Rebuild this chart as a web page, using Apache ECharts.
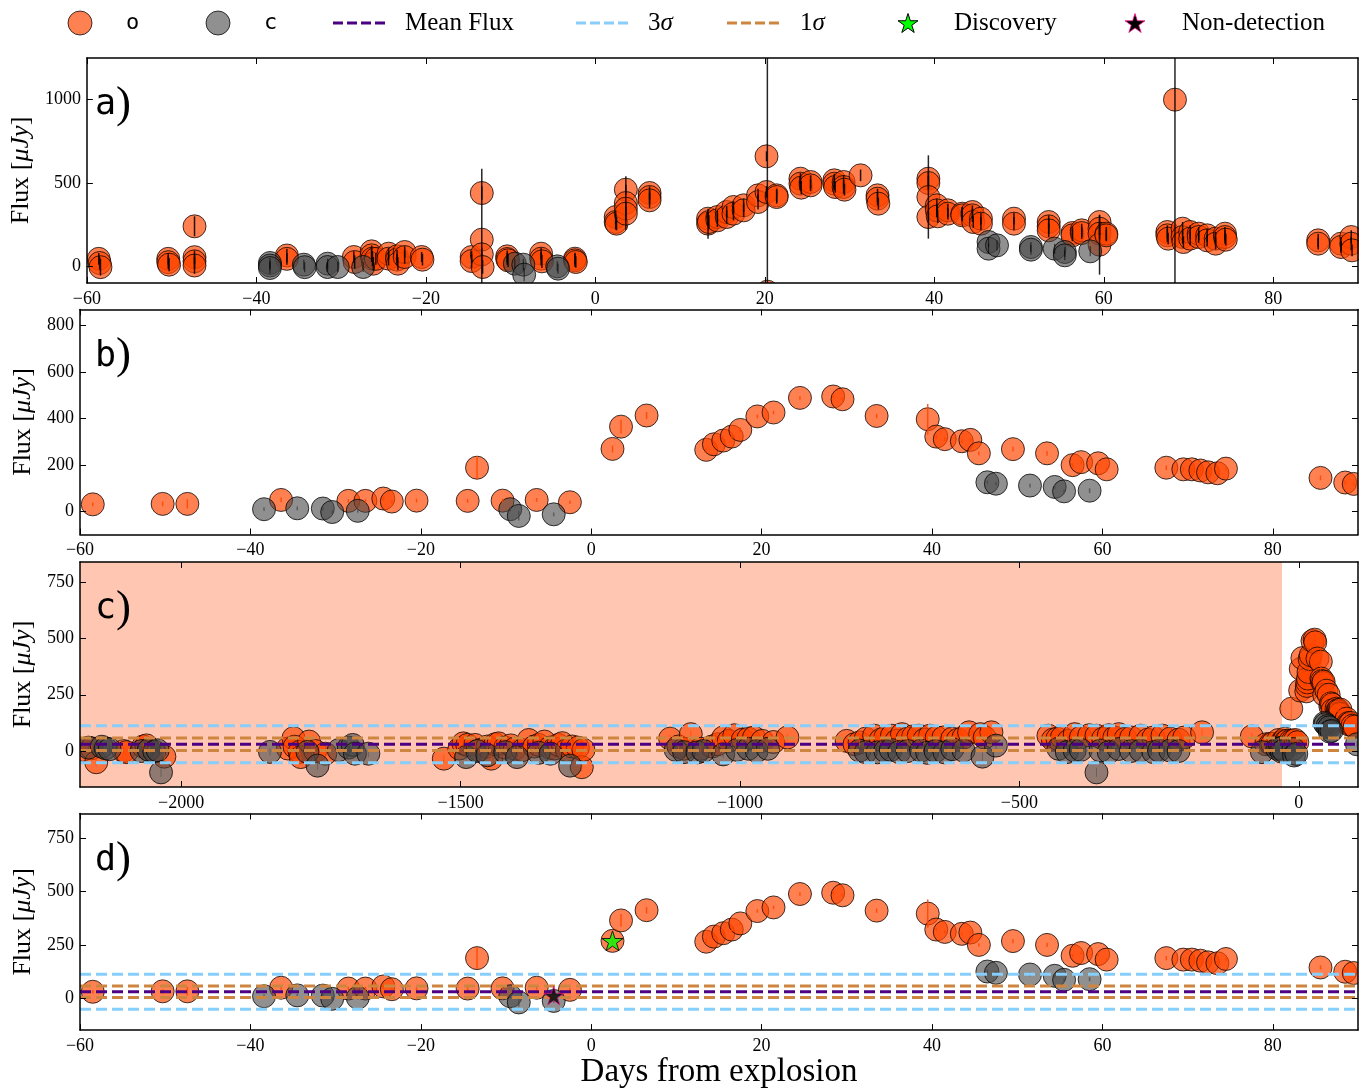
<!DOCTYPE html>
<html>
<head>
<meta charset="utf-8">
<title>Light curve</title>
<script src="https://cdn.jsdelivr.net/npm/echarts@6/dist/echarts.min.js"></script>
<style>
  html, body { margin: 0; padding: 0; background: #fff; }
  #chart { width: 1368px; height: 1090px; }
</style>
</head>
<body>
<div id="chart"></div>
<script>
// ---------------------------------------------------------------------------
// Data: each point is [days from explosion, flux (uJy), 1-sigma error]
// ---------------------------------------------------------------------------

// individual epochs, o band
const epochsO = [
  [-58.6, 45, 35], [-58.5, 20, 40], [-58.4, -5, 50],
  [-50.4, 45, 35], [-50.4, 25, 40], [-50.3, 10, 40],
  [-47.3, 240, 60], [-47.3, 55, 40], [-47.3, 30, 45], [-47.3, 5, 50],
  [-36.4, 65, 40], [-36.4, 45, 35],
  [-28.5, 56, 35], [-28.4, 26, 40],
  [-26.4, 90, 35], [-26.4, 66, 40], [-26.3, 46, 45], [-26.2, 16, 40], [-25.9, 45, 35],
  [-24.4, 76, 35], [-24.4, 46, 40],
  [-23.4, 60, 40], [-23.4, 40, 35], [-23.3, 16, 40],
  [-22.5, 86, 35], [-22.5, 56, 40],
  [-20.5, 56, 30], [-20.4, 40, 35],
  [-14.6, 56, 35], [-14.6, 32, 40],
  [-13.4, 440, 40], [-13.4, 160, 426], [-13.4, 72, 40], [-13.3, -4, 40],
  [-10.4, 60, 35], [-10.4, 44, 35], [-10.3, 36, 40],
  [-6.4, 76, 35], [-6.4, 46, 40], [-6.3, 30, 40],
  [-2.4, 46, 35], [-2.4, 36, 40], [-2.3, 26, 35],
  [2.4, 296, 40], [2.4, 266, 45], [2.5, 256, 40],
  [3.6, 460, 30], [3.6, 380, 160], [3.6, 346, 40], [3.6, 316, 40],
  [6.4, 440, 40], [6.4, 416, 40], [6.4, 396, 45],
  [13.3, 286, 40], [13.3, 256, 90], [13.4, 266, 40],
  [14.4, 296, 40], [14.4, 276, 40],
  [15.5, 326, 35], [15.5, 296, 40],
  [16.3, 356, 35], [16.3, 316, 40],
  [17.5, 366, 40], [17.5, 336, 40],
  [19.2, 426, 40], [19.2, 386, 45],
  [20.2, 660, 30], [20.2, 446, 35], [20.3, -152, 2000],
  [21.4, 426, 40], [21.4, 416, 40],
  [24.2, 526, 35], [24.2, 496, 40], [24.3, 472, 40],
  [25.4, 506, 40], [25.4, 486, 35],
  [28.2, 516, 40], [28.2, 496, 40], [28.3, 476, 35],
  [29.3, 506, 40], [29.3, 476, 40], [29.4, 460, 35],
  [31.3, 546, 35],
  [33.3, 426, 40], [33.3, 406, 40], [33.4, 376, 35],
  [39.3, 526, 40], [39.3, 500, 40], [39.3, 416, 250], [39.3, 296, 35],
  [40.3, 366, 40], [40.3, 336, 40], [40.4, 300, 40],
  [41.6, 336, 40], [41.6, 316, 35],
  [43.3, 316, 40], [43.3, 306, 35],
  [44.5, 326, 40], [44.5, 306, 40], [44.6, 266, 35],
  [45.5, 286, 35], [45.5, 256, 40],
  [49.4, 286, 35], [49.4, 256, 40],
  [53.5, 266, 40], [53.5, 240, 45], [53.5, 216, 40],
  [56.3, 200, 40], [56.3, 186, 35],
  [57.4, 216, 40], [57.4, 200, 35],
  [59.5, 266, 40], [59.5, 226, 40], [59.5, 196, 35], [59.5, 130, 180],
  [60.3, 196, 40], [60.3, 186, 35],
  [67.5, 206, 40], [67.5, 186, 40], [67.6, 166, 35],
  [68.4, 1000, 2000],
  [69.3, 226, 40], [69.3, 176, 40], [69.4, 146, 35],
  [70.2, 206, 40], [70.2, 166, 40],
  [71.2, 196, 40], [71.2, 176, 35],
  [72.2, 186, 40], [72.2, 156, 35],
  [73.2, 166, 40], [73.2, 136, 35],
  [74.3, 196, 40], [74.3, 176, 40], [74.4, 160, 35],
  [85.3, 156, 40], [85.3, 136, 35],
  [88.0, 136, 40], [88.0, 116, 35],
  [89.2, 176, 40], [89.2, 136, 40], [89.3, 96, 35]
];

// individual epochs, c band
const epochsC = [
  [-38.4, 20, 30], [-38.4, 5, 30], [-38.4, -10, 35],
  [-34.4, 10, 30], [-34.3, -5, 30],
  [-31.6, 16, 30], [-31.6, -4, 30], [-30.4, -4, 30],
  [-27.4, -4, 30],
  [-9.5, 16, 30], [-8.5, 10, 35], [-8.4, -50, 40],
  [-4.5, 0, 30], [-4.4, -14, 30],
  [46.4, 146, 30], [46.4, 106, 30], [47.4, 126, 30],
  [51.4, 116, 30], [51.4, 100, 30],
  [54.2, 106, 30], [55.4, 86, 30], [55.4, 66, 30],
  [58.4, 90, 30]
];

// nightly averages, o band
const binnedO = [
  [-58.5, 30, 8], [-50.3, 32, 10], [-47.4, 32, 20], [-36.4, 49, 10], [-28.5, 45, 8],
  [-26.5, 45, 8], [-24.4, 55, 10], [-23.4, 42, 8], [-20.5, 46, 8], [-14.5, 45, 8],
  [-13.4, 188, 50], [-10.4, 46, 8], [-6.4, 49, 8], [-2.5, 39, 8], [2.5, 269, 15],
  [3.5, 365, 30], [6.5, 413, 15], [13.5, 265, 10], [14.4, 289, 8], [15.5, 305, 8],
  [16.5, 322, 8], [17.5, 351, 10], [19.5, 409, 8], [21.4, 426, 8], [24.5, 489, 8],
  [28.4, 495, 8], [29.5, 483, 8], [33.5, 411, 10], [39.5, 397, 66], [40.5, 322, 8],
  [41.5, 311, 8], [43.5, 302, 8], [44.5, 308, 8], [45.5, 250, 8], [49.5, 268, 10],
  [53.5, 250, 10], [56.5, 199, 8], [57.5, 212, 8], [59.5, 207, 10], [60.5, 181, 8],
  [67.5, 188, 10], [69.5, 181, 8], [70.5, 181, 8], [71.5, 176, 8], [72.4, 168, 8],
  [73.5, 164, 8], [74.5, 184, 8], [85.6, 144, 10], [88.5, 124, 8], [89.5, 118, 8]
];

// nightly averages, c band
const binnedC = [
  [-38.4, 9, 8], [-34.5, 13, 8], [-31.5, 12, 8], [-30.4, -3, 8], [-27.4, 2, 8],
  [-9.5, 9, 10], [-8.5, -20, 20], [-4.4, -13, 8],
  [46.5, 125, 8], [47.5, 119, 8], [51.5, 111, 8], [54.4, 105, 8], [55.5, 86, 8], [58.5, 89, 10]
];

// nightly averages before day -60, o band
const baselineO = [
  [-2176, 5, 15], [-2160, 12, 15], [-2152, -50, 18], [-2103, 0, 15], [-2098, -5, 15],
  [-2068, 20, 15], [-2062, 25, 15], [-2057, 5, 15], [-2030, -25, 18],
  [-1809, 11, 15], [-1799, 57, 18], [-1797, 19, 15], [-1788, -4, 15], [-1786, -27, 15],
  [-1771, 42, 15], [-1760, 0, 15], [-1742, -12, 15],
  [-1530, -34, 18], [-1502, 11, 15], [-1495, 34, 15], [-1488, 27, 15], [-1474, 27, 15],
  [-1467, 4, 15], [-1452, 20, 15], [-1445, -34, 18], [-1438, 30, 15], [-1432, 34, 15],
  [-1420, 15, 15], [-1410, 25, 15], [-1403, 10, 15], [-1389, 4, 15], [-1378, 49, 15],
  [-1368, 20, 15], [-1360, 27, 15], [-1350, 42, 15], [-1340, 15, 15], [-1332, 11, 15],
  [-1325, 27, 15], [-1318, 35, 15], [-1310, 4, 15], [-1300, 20, 15], [-1290, 15, 15],
  [-1283, -72, 20], [-1280, 5, 15],
  [-1125, 55, 15], [-1110, 20, 15], [-1100, 10, 15], [-1088, 75, 15], [-1070, 10, 15],
  [-1050, 20, 15], [-1040, 30, 15], [-1030, 60, 15], [-1020, 45, 15], [-1010, 70, 15],
  [-995, 50, 15], [-985, 55, 15], [-975, 60, 15], [-960, 45, 15], [-940, 40, 15],
  [-915, 60, 15],
  [-809, 45, 15], [-795, 30, 15], [-786, 38, 15], [-775, 55, 15], [-760, 68, 15],
  [-748, 50, 15], [-740, 60, 15], [-728, 68, 15], [-720, 45, 15], [-710, 75, 15],
  [-700, 55, 15], [-690, 65, 15], [-680, 68, 15], [-670, 50, 15], [-660, 68, 15],
  [-648, 60, 15], [-636, 60, 15], [-620, 55, 15], [-610, 50, 15], [-600, 60, 15],
  [-590, 83, 15], [-570, 75, 15], [-562, 60, 15], [-550, 83, 15],
  [-448, 68, 15], [-440, 50, 15], [-432, 55, 15], [-424, 60, 15], [-412, 45, 15],
  [-401, 75, 15], [-390, 60, 15], [-375, 70, 15], [-362, 68, 15], [-350, 55, 15],
  [-340, 70, 15], [-330, 60, 15], [-322, 75, 15], [-310, 55, 15], [-300, 60, 15],
  [-283, 68, 15], [-270, 50, 15], [-260, 60, 15], [-244, 68, 15], [-230, 55, 15],
  [-215, 50, 15], [-205, 60, 15], [-173, 83, 15],
  [-84, 65, 15]
];

// nightly averages before day -60, c band
const baselineC = [
  [-2166, 15, 15], [-2142, 19, 15], [-2135, 12, 15], [-2128, 8, 15], [-2071, 0, 15],
  [-2058, 5, 15], [-2048, -2, 15], [-2042, 3, 15], [-2036, -95, 20],
  [-1841, -4, 15], [-1774, -4, 15], [-1756, -65, 18], [-1718, 4, 15], [-1700, 15, 15],
  [-1693, 27, 15], [-1689, -12, 15], [-1665, -12, 15],
  [-1490, -27, 15], [-1470, 0, 15], [-1452, -19, 15], [-1420, -5, 15], [-1399, -27, 15],
  [-1360, -8, 15], [-1339, -12, 15], [-1304, -65, 18],
  [-1115, 5, 15], [-1100, -5, 15], [-1076, -6, 15], [-1065, 0, 15], [-1030, -15, 15],
  [-1005, 5, 15], [-985, 10, 15], [-970, 0, 15], [-950, 10, 15],
  [-786, 2, 15], [-775, -5, 15], [-754, -6, 15], [-740, 0, 15], [-730, 5, 15],
  [-715, -5, 15], [-700, 0, 15], [-676, 2, 15], [-665, -8, 15], [-650, 0, 15],
  [-634, -6, 15], [-620, 8, 15], [-600, 2, 15], [-566, -25, 18], [-542, 24, 15],
  [-430, 10, 15], [-415, -5, 15], [-401, 2, 15], [-390, 5, 15], [-362, -95, 20],
  [-355, 2, 15], [-340, -5, 15], [-322, 9, 15], [-300, 0, 15], [-283, 2, 15],
  [-260, -5, 15], [-250, 2, 15], [-230, 2, 15], [-215, 0, 15],
  [-66, -5, 15]
];

// nightly averages after day 90
const tailO = [[93, 125, 10], [96, 112, 10], [100, 108, 10]];
const tailC = [[104, 30, 12]];

// baseline statistics and reference epochs
const meanFlux = 30;
const sigmaFlux = 27.5;
const baselineEnd = -30;           // end of the shaded pre-explosion window
const discovery = [[2.5, 269]];
const nonDetection = [[-4.4, 12]];

// axis ranges and ticks
const daysRange = [-60, 90];
const longRange = [-2181, 106];
const fluxRanges = [[-100, 1250], [-100, 870], [-160, 840], [-150, 867]];
const dayTicks = [-60, -40, -20, 0, 20, 40, 60, 80];
const longTicks = [-2000, -1500, -1000, -500, 0];
const fluxTicks = [[0, 500, 1000], [0, 200, 400, 600, 800], [0, 250, 500, 750], [0, 250, 500, 750]];
const panelNames = ['a', 'b', 'c', 'd'];

// ---------------------------------------------------------------------------
// Styling
// ---------------------------------------------------------------------------
const SERIF = '"Liberation Serif", "DejaVu Serif", serif';
const MONO = '"DejaVu Sans Mono", "Liberation Mono", monospace';
const O_FILL = 'rgba(255,69,0,0.68)';
const C_FILL = 'rgba(70,70,70,0.6)';
const EDGE = 'rgba(0,0,0,0.75)';
const MEAN_COLOR = '#4b0082';
const SIG3_COLOR = '#87cefa';
const SIG1_COLOR = '#cd853f';
const DASH = [11, 5];
const MARKER_R = 11.5;
const STAR = 'path://M0,-10L2.24,-3.08L9.51,-3.09L3.62,1.18L5.88,8.09L0,3.81L-5.88,8.09L-3.62,1.18L-9.51,-3.09L-2.24,-3.08Z';
// five-pointed star outline (unit radius), used for the legend glyphs
const STAR_UNIT = [[0, -1], [0.224, -0.308], [0.951, -0.309], [0.362, 0.118], [0.588, 0.809],
  [0, 0.381], [-0.588, 0.809], [-0.362, 0.118], [-0.951, -0.309], [-0.224, -0.308]];

const panelTops = [58, 309.5, 562, 813.5];
const panelHeight = 225;

const fmt = v => String(v).replace('-', '\u2212');

function xAxesFor(i, range, ticks, extra) {
  const line = { show: true, onZero: false, lineStyle: { color: '#000', width: 1.5 } };
  const tick = { show: true, inside: true, length: 6, customValues: ticks, lineStyle: { color: '#000', width: 1 } };
  return [
    Object.assign({
      type: 'value', gridIndex: i, position: 'bottom', min: range[0], max: range[1], z: 10,
      axisLine: line, axisTick: tick, splitLine: { show: false },
      axisLabel: { customValues: ticks, formatter: fmt, margin: 7, color: '#000', fontFamily: SERIF, fontSize: 18 }
    }, extra || {}),
    {
      type: 'value', gridIndex: i, position: 'top', min: range[0], max: range[1], z: 10,
      axisLine: line, axisTick: tick, splitLine: { show: false }, axisLabel: { show: false }
    }
  ];
}

function yAxesFor(i, range, ticks) {
  const line = { show: true, onZero: false, lineStyle: { color: '#000', width: 1.5 } };
  const tick = { show: true, inside: true, length: 6, customValues: ticks, lineStyle: { color: '#000', width: 1 } };
  return [
    {
      type: 'value', gridIndex: i, position: 'left', min: range[0], max: range[1], z: 10,
      axisLine: line, axisTick: tick, splitLine: { show: false },
      axisLabel: { customValues: ticks, formatter: fmt, margin: 6, color: '#000', fontFamily: SERIF, fontSize: 18 },
      name: 'Flux [{i|\u03bcJy}]', nameLocation: 'middle', nameGap: 34, nameRotate: 90,
      nameTextStyle: {
        color: '#000', fontFamily: SERIF, fontSize: 26,
        rich: { i: { fontStyle: 'italic', fontFamily: SERIF, fontSize: 26, color: '#000' } }
      }
    },
    {
      type: 'value', gridIndex: i, position: 'right', min: range[0], max: range[1], z: 10,
      axisLine: line, axisTick: tick, splitLine: { show: false }, axisLabel: { show: false }
    }
  ];
}

// circular markers, clipped to the plotting area
function pointSeries(i, data, fill, z) {
  return {
    type: 'custom', xAxisIndex: 2 * i, yAxisIndex: 2 * i, z: z, silent: true, clip: true,
    data: data.map(p => [p[0], p[1]]),
    renderItem: function (params, api) {
      const c = api.coord([api.value(0), api.value(1)]);
      return {
        type: 'circle',
        shape: { cx: c[0], cy: c[1], r: MARKER_R },
        style: { fill: fill, stroke: EDGE, lineWidth: 1 }
      };
    }
  };
}

// vertical error bars
function errorSeries(i, data, color, width, z) {
  return {
    type: 'custom', xAxisIndex: 2 * i, yAxisIndex: 2 * i, z: z, silent: true, clip: true,
    data: data,
    renderItem: function (params, api) {
      const x = api.value(0), y = api.value(1), e = api.value(2);
      const lo = api.coord([x, y - e]);
      const hi = api.coord([x, y + e]);
      const cs = params.coordSys;
      if (lo[0] < cs.x || lo[0] > cs.x + cs.width) return;
      const top = Math.max(hi[1], cs.y);
      const bottom = Math.min(lo[1], cs.y + cs.height);
      if (bottom <= top) return;
      return {
        type: 'line',
        shape: { x1: lo[0], y1: top, x2: lo[0], y2: bottom },
        style: { stroke: color, lineWidth: width }
      };
    }
  };
}

function levelSeries(i, range, value, color) {
  return {
    type: 'line', xAxisIndex: 2 * i, yAxisIndex: 2 * i, z: 6, silent: true,
    symbol: 'none', showSymbol: false,
    lineStyle: { color: color, width: 3, type: DASH },
    data: [[range[0], value], [range[1], value]]
  };
}

function levelSet(i, range) {
  return [
    levelSeries(i, range, meanFlux + 3 * sigmaFlux, SIG3_COLOR),
    levelSeries(i, range, meanFlux - 3 * sigmaFlux, SIG3_COLOR),
    levelSeries(i, range, meanFlux + sigmaFlux, SIG1_COLOR),
    levelSeries(i, range, meanFlux - sigmaFlux, SIG1_COLOR),
    levelSeries(i, range, meanFlux, MEAN_COLOR)
  ];
}

const longO = baselineO.concat(binnedO, tailO);
const longC = baselineC.concat(binnedC, tailC);

const series = [
  // a) individual epochs
  pointSeries(0, epochsO, O_FILL, 2),
  pointSeries(0, epochsC, C_FILL, 3),
  errorSeries(0, epochsO, 'rgba(0,0,0,0.85)', 1.5, 4),
  errorSeries(0, epochsC, 'rgba(0,0,0,0.6)', 1.2, 4),
  // b) nightly averages
  pointSeries(1, binnedO, O_FILL, 2),
  pointSeries(1, binnedC, C_FILL, 3),
  errorSeries(1, binnedO, 'rgba(255,69,0,0.85)', 1.5, 4),
  errorSeries(1, binnedC, 'rgba(70,70,70,0.7)', 1.5, 4),
  // c) full baseline
  {
    type: 'line', xAxisIndex: 4, yAxisIndex: 4, z: 0, silent: true, data: [],
    markArea: {
      silent: true,
      itemStyle: { color: '#ffc6b1', opacity: 1 },
      data: [[{ xAxis: longRange[0], yAxis: fluxRanges[2][0] }, { xAxis: baselineEnd, yAxis: fluxRanges[2][1] }]]
    }
  },
  pointSeries(2, longO, O_FILL, 2),
  pointSeries(2, longC, C_FILL, 3),
  errorSeries(2, longO, 'rgba(255,69,0,0.6)', 1, 4),
  errorSeries(2, longC, 'rgba(70,70,70,0.5)', 1, 4)
].concat(levelSet(2, longRange), [
  // d) nightly averages with baseline levels
  pointSeries(3, binnedO, O_FILL, 2),
  pointSeries(3, binnedC, C_FILL, 3),
  errorSeries(3, binnedO, 'rgba(255,69,0,0.85)', 1.5, 4),
  errorSeries(3, binnedC, 'rgba(70,70,70,0.7)', 1.5, 4)
], levelSet(3, daysRange), [
  {
    type: 'scatter', xAxisIndex: 6, yAxisIndex: 6, z: 8, silent: true,
    symbol: STAR, symbolSize: 21, symbolKeepAspect: true,
    itemStyle: { color: '#00ff00', borderColor: '#000', borderWidth: 1 },
    data: discovery
  },
  {
    type: 'scatter', xAxisIndex: 6, yAxisIndex: 6, z: 8, silent: true,
    symbol: STAR, symbolSize: 20, symbolKeepAspect: true,
    itemStyle: { color: '#000', borderColor: '#ff1493', borderWidth: 0.8 },
    data: nonDetection
  }
]);

const xAxis = [].concat(
  xAxesFor(0, daysRange, dayTicks),
  xAxesFor(1, daysRange, dayTicks),
  xAxesFor(2, longRange, longTicks),
  xAxesFor(3, daysRange, dayTicks, {
    name: 'Days from explosion', nameLocation: 'middle', nameGap: 25,
    nameTextStyle: { color: '#000', fontFamily: SERIF, fontSize: 33, verticalAlign: 'top' }
  })
);
const yAxis = [].concat(
  yAxesFor(0, fluxRanges[0], fluxTicks[0]),
  yAxesFor(1, fluxRanges[1], fluxTicks[1]),
  yAxesFor(2, fluxRanges[2], fluxTicks[2]),
  yAxesFor(3, fluxRanges[3], fluxTicks[3])
);

const grid = panelTops.map(t => ({ left: 80, right: 10, top: t, height: panelHeight, containLabel: false }));

const title = panelTops.map((t, i) => ({
  text: '{m|' + panelNames[i] + '}{p|)}',
  left: 95, top: t + 24, padding: 0,
  textStyle: {
    fontWeight: 'normal',
    rich: {
      m: { fontFamily: MONO, fontSize: 35, fontWeight: 'normal', lineHeight: 46, color: '#000' },
      p: { fontFamily: SERIF, fontSize: 45, fontWeight: 'normal', lineHeight: 46, color: '#000' }
    }
  }
}));

// legend row
const LY = 23;
function legendText(x, text, family, size) {
  return {
    type: 'text', x: x, y: LY, silent: true,
    style: {
      text: text, fill: '#000', fontFamily: family, fontSize: size,
      align: 'left', verticalAlign: 'middle',
      rich: { i: { fontStyle: 'italic', fontFamily: SERIF, fontSize: size, fill: '#000' } }
    }
  };
}
function legendDash(x1, x2, color) {
  return {
    type: 'line', silent: true, shape: { x1: x1, y1: LY, x2: x2, y2: LY },
    style: { stroke: color, lineWidth: 3, lineDash: [10, 4] }
  };
}
function legendStar(cx, r, fill, stroke, lw) {
  return {
    type: 'polygon', silent: true,
    shape: { points: STAR_UNIT.map(p => [cx + p[0] * r, LY + 1 + p[1] * r]) },
    style: { fill: fill, stroke: stroke, lineWidth: lw }
  };
}
const graphic = [
  { type: 'circle', silent: true, shape: { cx: 80, cy: LY, r: 12 }, style: { fill: O_FILL, stroke: EDGE, lineWidth: 1 } },
  legendText(126, 'o', MONO, 22),
  { type: 'circle', silent: true, shape: { cx: 218, cy: LY, r: 12 }, style: { fill: C_FILL, stroke: EDGE, lineWidth: 1 } },
  legendText(264, 'c', MONO, 22),
  legendDash(333, 385, MEAN_COLOR),
  legendText(405, 'Mean Flux', SERIF, 25),
  legendDash(576, 628, SIG3_COLOR),
  legendText(648, '3{i|\u03c3}', SERIF, 25),
  legendDash(727, 780, SIG1_COLOR),
  legendText(800, '1{i|\u03c3}', SERIF, 25),
  legendStar(908, 10.5, '#00ff00', '#000', 1),
  legendText(954, 'Discovery', SERIF, 25),
  legendStar(1135, 10.5, '#000', '#ff1493', 0.8),
  legendText(1182, 'Non-detection', SERIF, 25)
];

const chart = echarts.init(document.getElementById('chart'), null, { renderer: 'canvas' });
chart.setOption({
  animation: false,
  backgroundColor: '#fff',
  title: title,
  grid: grid,
  xAxis: xAxis,
  yAxis: yAxis,
  series: series,
  graphic: graphic
});
</script>
</body>
</html>
